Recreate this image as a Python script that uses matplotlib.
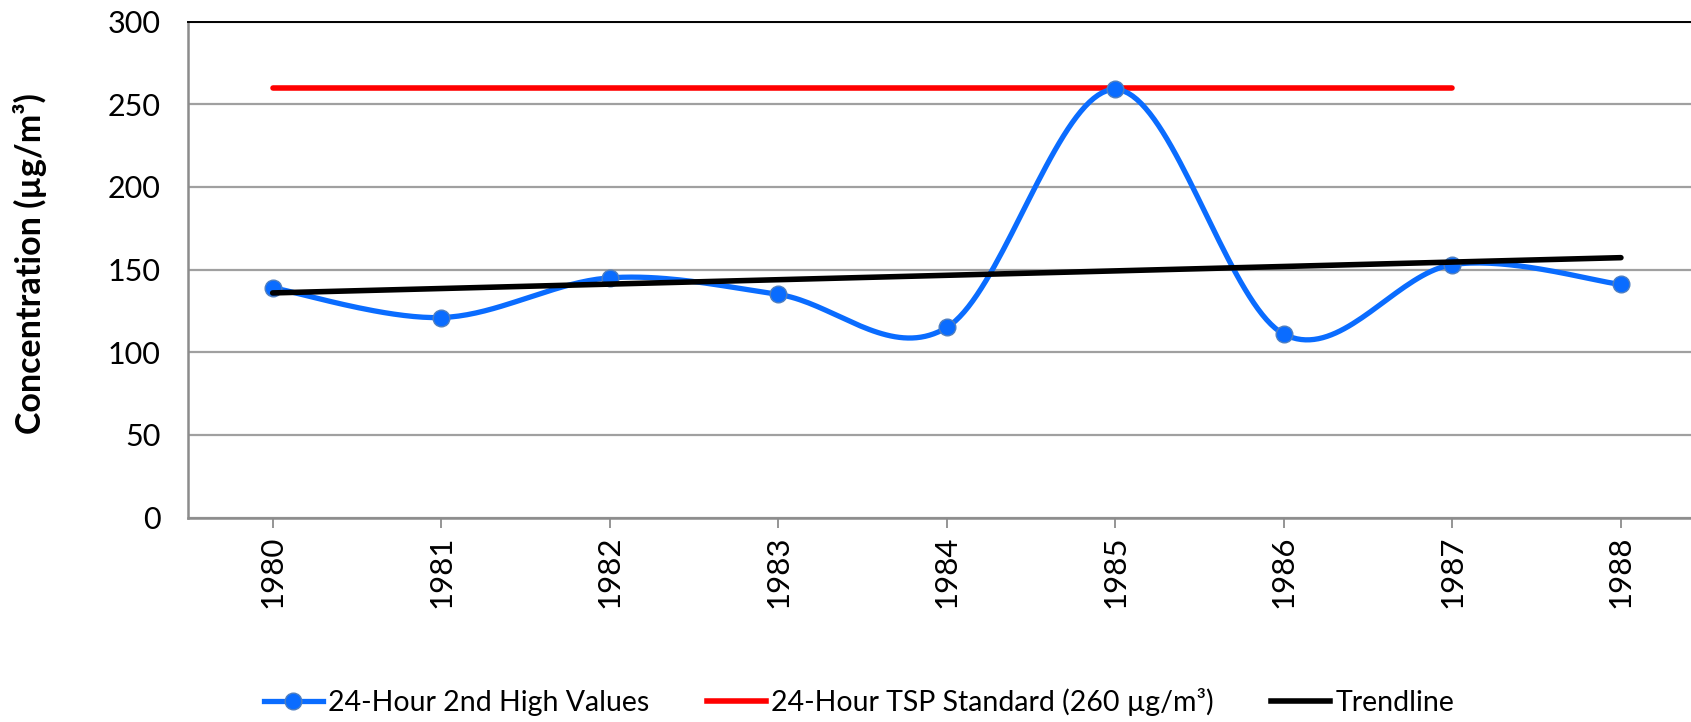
import numpy as np
import matplotlib
matplotlib.use("Agg")
import matplotlib.pyplot as plt
from matplotlib.lines import Line2D

plt.rcParams['font.family'] = ['Lato', 'DejaVu Sans']

# data
years = ["1980", "1981", "1982", "1983", "1984", "1985", "1986", "1987", "1988"]
second_high = [139, 121, 145, 135, 115, 259, 111, 153, 141]
standard_years = ["1980", "1981", "1982", "1983", "1984", "1985", "1986", "1987"]
standard_value = [260, 260, 260, 260, 260, 260, 260, 260]
y_ticks = [0, 50, 100, 150, 200, 250, 300]


def excel_smooth(x, y, n=40):
    # bezier smoothing like the spreadsheet "smoothed line" option
    x = np.asarray(x, float)
    y = np.asarray(y, float)
    px = np.concatenate([[x[0]], x, [x[-1]]])
    py = np.concatenate([[y[0]], y, [y[-1]]])
    xs, ys = [], []
    t = np.linspace(0, 1, n)
    for i in range(1, len(px) - 2):
        p0 = np.array([px[i], py[i]])
        p3 = np.array([px[i + 1], py[i + 1]])
        c1 = p0 + (np.array([px[i + 1], py[i + 1]]) - np.array([px[i - 1], py[i - 1]])) / 6
        c2 = p3 - (np.array([px[i + 2], py[i + 2]]) - np.array([px[i], py[i]])) / 6
        b = ((1 - t) ** 3)[:, None] * p0 + (3 * (1 - t) ** 2 * t)[:, None] * c1 \
            + (3 * (1 - t) * t ** 2)[:, None] * c2 + (t ** 3)[:, None] * p3
        xs.append(b[:, 0])
        ys.append(b[:, 1])
    return np.concatenate(xs), np.concatenate(ys)


x = np.arange(len(years))
xs, ys = excel_smooth(x, second_high)

# linear trendline through the values
slope, intercept = np.polyfit(x, second_high, 1)
trend = slope * x + intercept

fig = plt.figure(figsize=(16.91, 7.22), dpi=100)
top, bottom = 21.6, 517.6
ax = fig.add_axes([188.4 / 1691, (722 - bottom) / 722, (1705.2 - 188.4) / 1691, (bottom - top) / 722])

blue = "#0A6CFF"
ax.plot(np.arange(len(standard_years)), standard_value, color="#FF0000", lw=4.0,
        solid_capstyle="round", zorder=3)
ax.plot(xs, ys, color=blue, lw=3.8, zorder=4)
ax.plot(x, second_high, 'o', color=blue, ms=12, mec="#4F7FC0", mew=1, zorder=5)
ax.plot([x[0], x[-1]], [trend[0], trend[-1]], color="black", lw=4.0,
        solid_capstyle="round", zorder=6)

ax.set_xlim(-0.5, len(years) - 0.5)
ax.set_ylim(0, 300)
ax.set_yticks(y_ticks)
ax.set_xticks(x)
ax.set_xticklabels(years, rotation=90)
ax.tick_params(axis='y', length=0, labelsize=22, pad=20)
ax.tick_params(axis='x', length=7, width=1.3, color="#8C8C8C", labelsize=22.5, pad=6)
ax.yaxis.grid(True, color="#A0A0A0", lw=1.6)
ax.set_axisbelow(True)

ax.spines["right"].set_visible(False)
ax.spines["top"].set_color("black")
ax.spines["top"].set_linewidth(1.4)
ax.spines["left"].set_color("#8C8C8C")
ax.spines["left"].set_linewidth(1.8)
ax.spines["bottom"].set_color("#8C8C8C")
ax.spines["bottom"].set_linewidth(1.8)

fig.text(30 / 1691, 1 - 264 / 722, "Concentration (µg/m³)", rotation=90,
         ha="center", va="center", fontsize=24.5, fontweight="bold")

handles = [
    Line2D([], [], color=blue, lw=3.8, marker='o', ms=12, mec="#4F7FC0"),
    Line2D([], [], color="#FF0000", lw=4.0),
    Line2D([], [], color="black", lw=4.0),
]
labels = ["24-Hour 2nd High Values", "24-Hour TSP Standard (260 µg/m³)", "Trendline"]
fig.legend(handles, labels, loc="lower center", bbox_to_anchor=(0.508, -0.027), ncol=3,
           frameon=False, handlelength=2.07, handletextpad=0.2, columnspacing=2.0,
           prop={'size': 20.5})

fig.savefig("out.png", dpi=100)
